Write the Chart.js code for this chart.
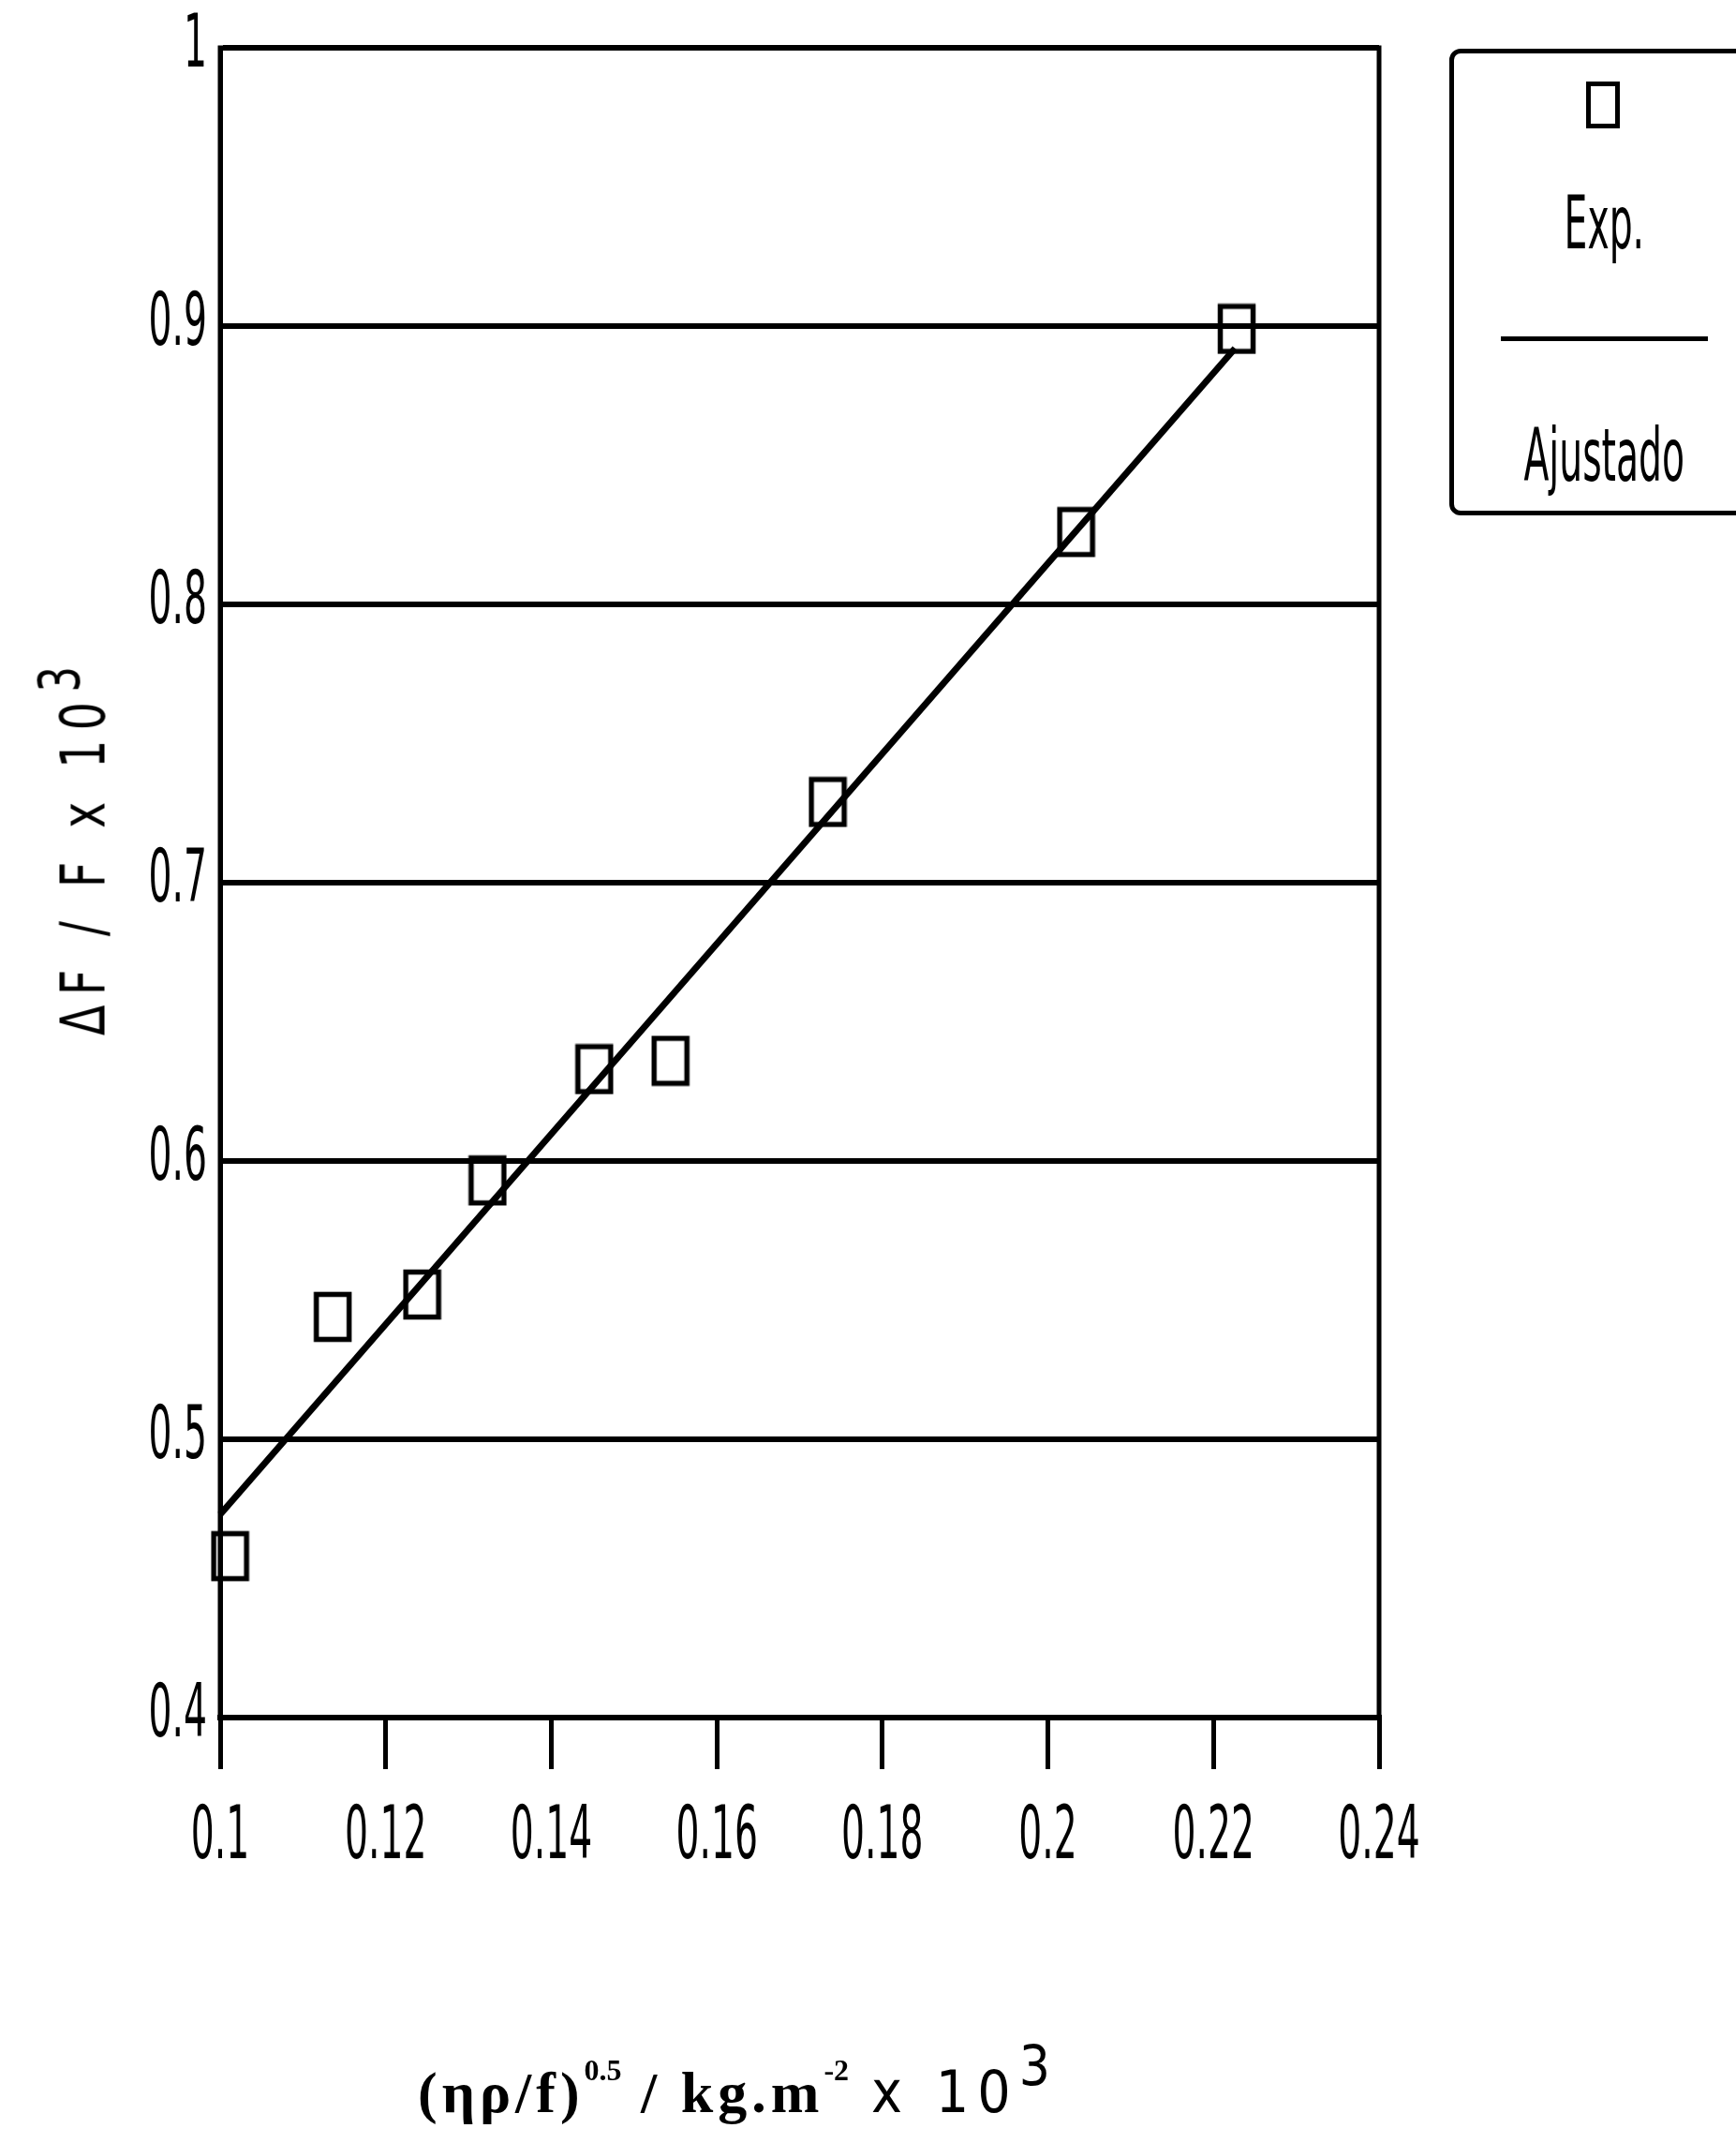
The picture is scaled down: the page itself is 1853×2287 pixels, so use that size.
<!DOCTYPE html>
<html>
<head>
<meta charset="utf-8">
<script src="https://cdn.jsdelivr.net/npm/chart.js@4.4.1/dist/chart.umd.min.js"></script>
<style>
  html, body { margin: 0; padding: 0; background: #fff; }
  #wrap { position: relative; width: 1853px; height: 2287px; overflow: hidden; }
  #chart { position: absolute; left: 0; top: 0; }
  .narrow { font-family: 'DejaVu Sans Condensed', 'Liberation Sans Narrow', 'Liberation Sans', sans-serif; }
  #ytitle {
    position: absolute; left: 78px; top: 903px; white-space: nowrap;
    font-size: 66px; letter-spacing: 13px; color: #000;
    transform: translate(-50%, -50%) rotate(-90deg) scaleX(0.8);
  }
  #ytitle sup { font-size: 60px; vertical-align: 0.45em; }
  #xtitle {
    position: absolute; left: 788px; top: 2220px; white-space: nowrap; color: #000;
    transform: translate(-50%, -50%);
  }
  #xtitle .main { font-family: 'Liberation Serif', 'DejaVu Serif', serif; font-weight: bold; font-size: 62px; letter-spacing: 5px; }
  #xtitle .main sup { font-size: 32px; vertical-align: 1.05em; letter-spacing: 0; }
  #xtitle .mult { display: inline-block; font-size: 62px; margin-left: 24px; letter-spacing: 9px; }
  #xtitle .mult sup { font-size: 58px; vertical-align: 0.5em; }
  #legend {
    position: absolute; left: 1547px; top: 52px; width: 360px; height: 498px;
    box-sizing: border-box; border: 5px solid #000; border-radius: 12px; background: #fff;
  }
  .lg-item { position: absolute; left: 0; width: 326px; height: 248px; }
  .lg-rect { position: absolute; left: 141px; top: 30px; width: 26px; height: 40px; border: 5px solid #000; }
  .lg-line { position: absolute; left: 50px; top: 54px; width: 221px; height: 0; border-top: 5px solid #000; }
  .lg-txt { position: absolute; left: 0; width: 320px; top: 142px; text-align: center; font-size: 78px; line-height: 1; color: #000; }
  .lg-txt span { display: inline-block; transform: scaleX(0.56); }
</style>
</head>
<body>
<div id="wrap">
  <canvas id="chart" width="1853" height="2287"></canvas>
  <div id="ytitle" class="narrow">ΔF / F x 10<sup>3</sup></div>
  <div id="xtitle"><span class="main">(ηρ/f)<sup>0.5</sup> / kg.m<sup>-2</sup></span><span class="mult narrow">x 10<sup>3</sup></span></div>
  <div id="legend" class="narrow"></div>
</div>
<script>
// valores
const expX = [0.1012, 0.1136, 0.1244, 0.1323, 0.1452, 0.1544, 0.1734, 0.2034, 0.2228];
const expY = [0.458, 0.544, 0.552, 0.593, 0.633, 0.636, 0.729, 0.826, 0.899];
const fitX = [0.1, 0.2226];
const fitY = [0.473, 0.892];
const xTickValues = [0.1, 0.12, 0.14, 0.16, 0.18, 0.2, 0.22, 0.24];
const yTickValues = [0.4, 0.5, 0.6, 0.7, 0.8, 0.9, 1];
const seriesLabels = ['Exp.', 'Ajustado'];

// marcador retangular (mais alto que largo, como no original)
function rectMarker() {
  const c = document.createElement('canvas');
  c.width = 42; c.height = 55;
  const g = c.getContext('2d');
  g.strokeStyle = '#000';
  g.lineWidth = 5.5;
  g.strokeRect(3.5, 3.5, 35, 48);
  return c;
}

const tickFont = { family: "'DejaVu Sans Condensed', 'Liberation Sans Narrow', 'Liberation Sans', sans-serif", size: 78 };

// letras das marcas estreitas (fonte de plotter do original): comprime o texto na horizontal
const narrowText = {
  id: 'narrowText',
  beforeDraw(chart) {
    const ctx = chart.ctx;
    const orig = ctx.fillText;
    ctx._origFillText = orig;
    ctx.fillText = function (text, x, y, maxWidth) {
      this.save();
      this.translate(x, y);
      this.scale(0.56, 1);
      if (maxWidth === undefined) orig.call(this, text, 0, 0);
      else orig.call(this, text, 0, 0, maxWidth / 0.56);
      this.restore();
    };
  },
  afterDraw(chart) {
    const ctx = chart.ctx;
    if (ctx._origFillText) { ctx.fillText = ctx._origFillText; delete ctx._origFillText; }
  }
};

const framePlugin = {
  id: 'frame',
  beforeDatasetsDraw(chart) {
    const { ctx, chartArea: a } = chart;
    ctx.save();
    ctx.strokeStyle = '#000';
    ctx.lineWidth = 5;
    ctx.strokeRect(a.left, a.top, a.right - a.left, a.bottom - a.top);
    ctx.restore();
  }
};

const chart = new Chart(document.getElementById('chart'), {
  type: 'scatter',
  data: {
    datasets: [{
      label: seriesLabels[0],
      data: expX.map((x, i) => ({ x, y: expY[i] })),
      pointStyle: rectMarker(),
      pointRadius: 20,
      showLine: false,
      clip: false,
    }, {
      label: seriesLabels[1],
      type: 'line',
      data: fitX.map((x, i) => ({ x, y: fitY[i] })),
      borderColor: '#000',
      borderWidth: 7,
      pointRadius: 0,
      fill: false,
      tension: 0,
      clip: false,
    }]
  },
  options: {
    responsive: false,
    animation: false,
    devicePixelRatio: 1,
    layout: { padding: { top: 51, right: 381, left: 0, bottom: 0 } },
    plugins: { legend: { display: false }, tooltip: { enabled: false } },
    scales: {
      x: {
        type: 'linear',
        min: 0.1, max: 0.24,
        afterFit: (s) => { s.height = 454; s.paddingLeft = 0; s.paddingRight = 0; },
        afterBuildTicks: (s) => { s.ticks = xTickValues.map((v) => ({ value: v })); },
        grid: { drawOnChartArea: false, drawTicks: true, tickLength: 55, color: '#000', lineWidth: 5 },
        border: { color: '#000', width: 6 },
        ticks: { color: '#000', font: tickFont, padding: 28, maxRotation: 0, autoSkip: false, callback: (v) => String(v) }
      },
      y: {
        type: 'linear',
        min: 0.4, max: 1,
        afterFit: (s) => { s.width = 235; s.paddingTop = 0; s.paddingBottom = 0; },
        afterBuildTicks: (s) => { s.ticks = yTickValues.map((v) => ({ value: v })); },
        grid: { color: '#000', lineWidth: 6, drawTicks: false },
        border: { color: '#000', width: 5 },
        ticks: { color: '#000', font: tickFont, padding: 14, autoSkip: false, callback: (v) => String(v) }
      }
    }
  },
  plugins: [narrowText, framePlugin]
});

// legenda em HTML, montada a partir dos datasets
(function buildLegend() {
  const box = document.getElementById('legend');
  chart.data.datasets.forEach((ds, i) => {
    const item = document.createElement('div');
    item.className = 'lg-item';
    item.style.top = (i * 248) + 'px';
    const sym = document.createElement('div');
    sym.className = ds.showLine === false ? 'lg-rect' : 'lg-line';
    const txt = document.createElement('div');
    txt.className = 'lg-txt';
    const span = document.createElement('span');
    span.textContent = ds.label;
    txt.appendChild(span);
    item.appendChild(sym);
    item.appendChild(txt);
    box.appendChild(item);
  });
})();
</script>
</body>
</html>
